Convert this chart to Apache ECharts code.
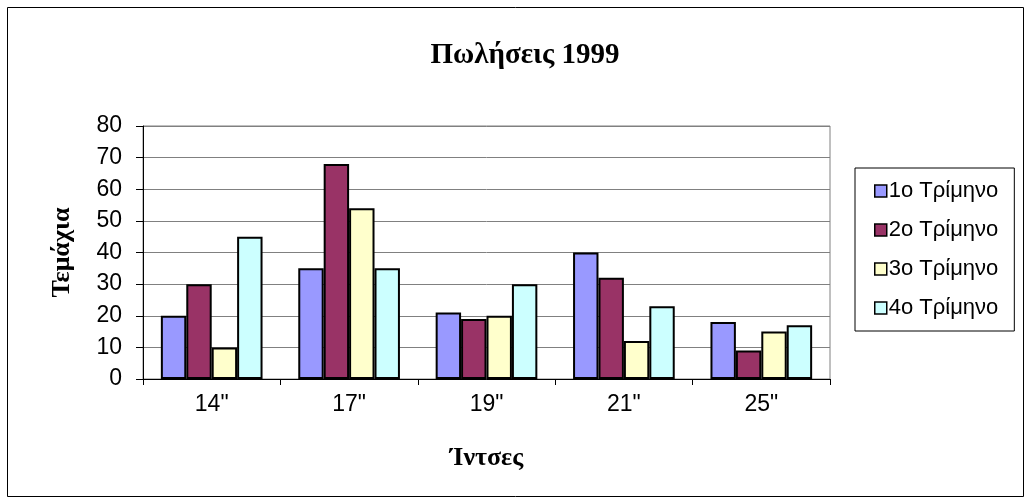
<!DOCTYPE html>
<html>
<head>
<meta charset="utf-8">
<script src="https://cdn.jsdelivr.net/npm/echarts@6/dist/echarts.min.js"></script>
<style>
html,body{margin:0;padding:0;background:#fff;}
#chart{width:1031px;height:504px;}
</style>
</head>
<body>
<div id="chart"></div>
<script>
const categories = ['14"', '17"', '19"', '21"', '25"'];
const seriesNames = ['1ο Τρίμηνο', '2ο Τρίμηνο', '3ο Τρίμηνο', '4ο Τρίμηνο'];
const q1 = [20, 35, 21, 40, 18];
const q2 = [30, 68, 19, 32, 9];
const q3 = [10, 54, 20, 12, 15];
const q4 = [45, 35, 30, 23, 17];
const yTicks = [0, 10, 20, 30, 40, 50, 60, 70, 80];
const colors = ['#9999FF', '#993366', '#FFFFCC', '#CCFFFF'];

const chart = echarts.init(document.getElementById('chart'), null, {renderer: 'canvas'});
const values = [q1, q2, q3, q4];
chart.setOption({
  animation: false,
  backgroundColor: '#fff',
  title: {
    text: 'Πωλήσεις 1999',
    left: 520, top: 36, textAlign: 'center',
    textStyle: {fontFamily: 'Liberation Serif', fontWeight: 'bold', fontSize: 29, color: '#000'}
  },
  graphic: [{
    type: 'rect', shape: {x: 7.5, y: 7.5, width: 1016, height: 489},
    style: {fill: 'none', stroke: '#000', lineWidth: 1}, z: 100
  }],
  legend: {
    orient: 'vertical', left: 855, top: 168,
    padding: [12, 16, 12, 19],
    itemGap: 17, itemWidth: 12, itemHeight: 12,
    borderColor: '#000', borderWidth: 1,
    icon: 'rect',
    textStyle: {fontFamily: 'Liberation Sans', fontSize: 22, color: '#000', padding: [0, 0, 0, -3]},
    data: seriesNames.map((n, i) => ({name: n, itemStyle: {color: colors[i], borderColor: '#000', borderWidth: 1.5}}))
  },
  grid: {left: 143, right: 201, top: 126, bottom: 125, show: true, borderColor: '#808080', borderWidth: 1, containLabel: false},
  xAxis: {
    type: 'category', data: categories,
    name: 'Ίντσες', nameLocation: 'middle', nameGap: 66,
    nameTextStyle: {fontFamily: 'Liberation Serif', fontWeight: 'bold', fontSize: 26, color: '#000'},
    axisLine: {lineStyle: {color: '#000', width: 1}},
    axisTick: {show: true, length: 6, lineStyle: {color: '#000'}},
    axisLabel: {fontFamily: 'Liberation Sans', fontSize: 23, color: '#000', margin: 14},
    splitLine: {show: false}
  },
  yAxis: {
    type: 'value', min: yTicks[0], max: yTicks[yTicks.length - 1], interval: yTicks[1] - yTicks[0],
    name: 'Τεμάχια', nameLocation: 'middle', nameGap: 68, nameRotate: 90,
    nameTextStyle: {fontFamily: 'Liberation Serif', fontWeight: 'bold', fontSize: 26, color: '#000'},
    axisLine: {show: true, lineStyle: {color: '#000', width: 1}},
    axisTick: {show: true, length: 7, lineStyle: {color: '#000'}},
    axisLabel: {fontFamily: 'Liberation Sans', fontSize: 23, color: '#000', margin: 21},
    splitLine: {show: true, lineStyle: {color: '#808080', width: 1}}
  },
  series: values.map((v, i) => ({
    name: seriesNames[i], type: 'bar', data: v,
    barGap: '0%', barCategoryGap: '26%',
    itemStyle: {color: colors[i], borderColor: '#000', borderWidth: 2}
  }))
});
</script>
</body>
</html>
